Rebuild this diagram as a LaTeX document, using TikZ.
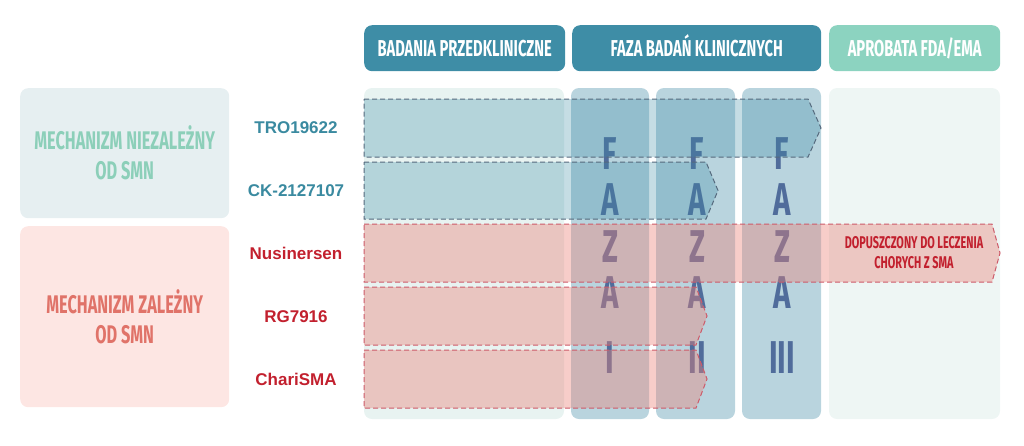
\documentclass[tikz,border=0pt]{standalone}
\usepackage{fontspec}
\setmainfont{Liberation Sans}
\newfontfamily\bebas[FakeStretch=0.64]{Fira Sans}
\usepackage{tikz}
\usetikzlibrary{positioning}

\definecolor{hd-teal}{HTML}{3E8DA6}
\definecolor{hd-mint}{HTML}{8CD3C0}
\definecolor{gr-blue}{HTML}{E6EFF1}
\definecolor{gr-mint}{HTML}{8CCFB9}
\definecolor{gr-pink}{HTML}{FDE6E3}
\definecolor{gr-salmon}{HTML}{E07369}
\definecolor{col-pale}{HTML}{E8F3F1}
\definecolor{col-phase}{HTML}{B9D4DE}
\definecolor{col-fda}{HTML}{EEF6F4}
\definecolor{ltr-blue}{HTML}{506C9B}
\definecolor{drug-teal}{HTML}{3A8AA0}
\definecolor{drug-red}{HTML}{C2202E}
\definecolor{bar-red}{HTML}{EB8278}
\definecolor{dash-blue}{HTML}{55697D}
\definecolor{dash-red}{HTML}{CD5A69}

\begin{document}
\begin{tikzpicture}[x=1pt,y=-1pt,
  header/.style={fill=#1,rounded corners=8pt,anchor=north west,minimum height=46pt,inner sep=0pt,
    text=white,text height=16pt,text depth=0pt,font=\bebas\bfseries\fontsize{23}{23}\selectfont},
  group/.style={fill=#1,rounded corners=8pt,anchor=north west,minimum width=209pt,inner sep=0pt,
    align=center,font=\bebas\bfseries\fontsize{25.5}{30}\selectfont},
  drug/.style={anchor=base,text=#1,font=\bfseries\fontsize{17}{17}\selectfont},
  phaseltr/.style={anchor=base,text=ltr-blue,inner sep=0pt,font=\bebas\bfseries\fontsize{46}{46}\selectfont},
  bluebar/.style={fill=hd-teal,fill opacity=0.3,draw=dash-blue,dash pattern=on 5pt off 3pt,line width=1pt},
  redbar/.style={fill=bar-red,fill opacity=0.4,draw=dash-red,dash pattern=on 5pt off 3pt,line width=1pt}]

\useasboundingbox (0,0) rectangle (1024,445);

% naglowki
\node[header=hd-teal,minimum width=201pt] (preclin) at (364,25) {BADANIA PRZEDKLINICZNE};
\node[header=hd-teal,minimum width=249pt] (clin) at (572,25) {FAZA BADAŃ KLINICZNYCH};
\node[header=hd-mint,minimum width=171pt] (fda) at (829,25) {APROBATA FDA/EMA};

% kolumny
\fill[col-pale,rounded corners=8pt] (364,88) rectangle (564,419);
\fill[col-phase,rounded corners=8pt] (571,88) rectangle (649,419);
\fill[col-phase,rounded corners=8pt] (656,88) rectangle (735,419);
\fill[col-phase,rounded corners=8pt] (742,88) rectangle (821,419);
\fill[col-fda,rounded corners=8pt] (829,88) rectangle (1000,419);

% grupy
\node[group=gr-blue,minimum height=130pt,text=gr-mint] (indep) at (20,88) {MECHANIZM NIEZALEŻNY\\OD SMN};
\node[group=gr-pink,minimum height=181pt,text=gr-salmon] (dep) at (20,226) {MECHANIZM ZALEŻNY\\OD SMN};

% litery faz
\foreach \x/\num in {610/I,697/II,782/III}{
  \foreach \l/\y in {F/169,A/215,Z/262,A/308}
    \node[phaseltr] (l-\num-\y) at (\x,\y) {\l};
  \node[phaseltr] (n-\num) at (\x,373) {\num};
}

% paski
\draw[bluebar] (364,99) -- (808,99) -- (821,128) -- (808,157) -- (364,157) -- cycle;
\draw[bluebar] (364,162) -- (706,162) -- (718,190.5) -- (706,219) -- (364,219) -- cycle;
\draw[redbar] (364,224) -- (992,224) -- (1000,253) -- (992,282) -- (364,282) -- cycle;
\draw[redbar] (364,287) -- (696,287) -- (707,316) -- (696,345) -- (364,345) -- cycle;
\draw[redbar] (364,350) -- (696,350) -- (707,379) -- (696,408) -- (364,408) -- cycle;

% leki
\node[drug=drug-teal] (tro) at (296,133) {TRO19622};
\node[drug=drug-teal] (ck) at (296,196) {CK-2127107};
\node[drug=drug-red] (nus) at (296,259) {Nusinersen};
\node[drug=drug-red] (rg) at (296,322) {RG7916};
\node[drug=drug-red] (chari) at (296,385) {ChariSMA};

\node[align=center,text=drug-red,font=\bebas\bfseries\fontsize{17}{20}\selectfont] (approved) at (914,253) {DOPUSZCZONY DO LECZENIA\\CHORYCH Z SMA};

\end{tikzpicture}
\end{document}
